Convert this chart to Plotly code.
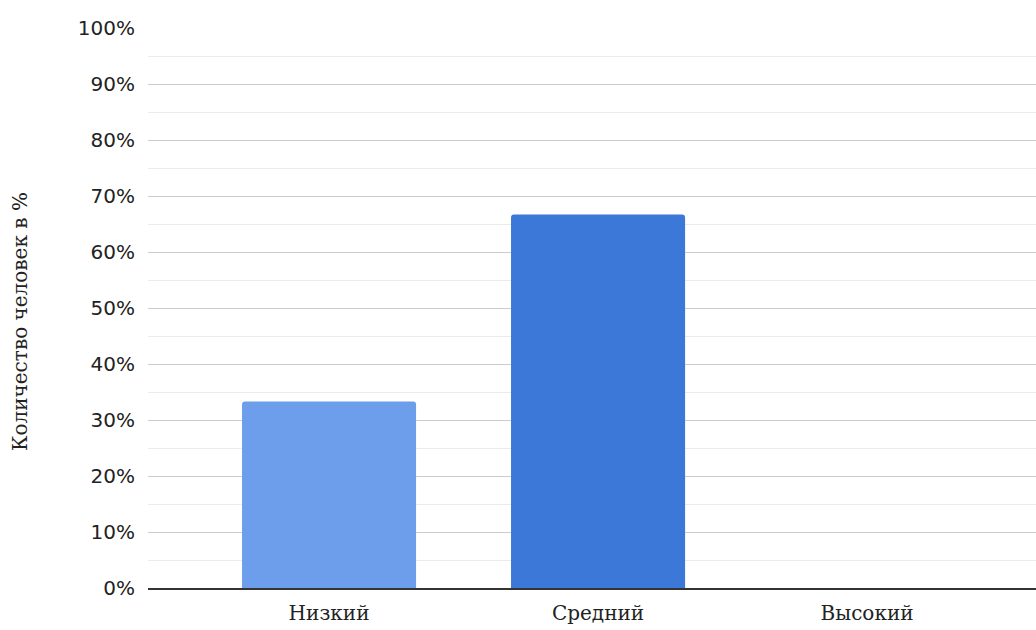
import plotly.graph_objects as go

categories = ["Низкий", "Средний", "Высокий"]
values = [33.3, 66.7, 0]
colors = ["#6d9eeb", "#3c78d8", "#3c78d8"]
y_ticks = list(range(0, 101, 10))
y_tick_labels = [f"{v}%" for v in y_ticks]
y_title = "Количество человек в %"

fig = go.Figure(go.Bar(
    x=categories, y=values, marker=dict(color=colors, line=dict(width=0)),
    width=0.647,
))
fig.update_layout(
    width=1036, height=630,
    margin=dict(l=148, r=0, t=28, b=42),
    paper_bgcolor="white", plot_bgcolor="white",
    showlegend=False, barcornerradius=3,
)
fig.update_xaxes(
    range=[-0.673, 2.628], showline=True, linecolor="#333333", linewidth=1.5,
    showgrid=False, ticks="", tickfont=dict(family="DejaVu Serif", size=20, color="#222222"),
    ticklabelstandoff=6,
)
fig.update_yaxes(
    range=[0, 100], tickvals=y_ticks, ticktext=y_tick_labels,
    showgrid=True, gridcolor="#cccccc", gridwidth=1, zeroline=False,
    minor=dict(dtick=5, showgrid=True, gridcolor="#ebebeb", gridwidth=1),
    tickfont=dict(family="DejaVu Sans", size=20, color="#222222"),
    ticklabelstandoff=12,
)
fig.add_annotation(
    text=y_title, xref="paper", yref="paper", x=-128 / 888, y=266 / 560,
    showarrow=False, textangle=-90, xanchor="center", yanchor="middle",
    font=dict(family="DejaVu Serif", size=20, color="#222222"),
)
fig.write_html("out.html")
